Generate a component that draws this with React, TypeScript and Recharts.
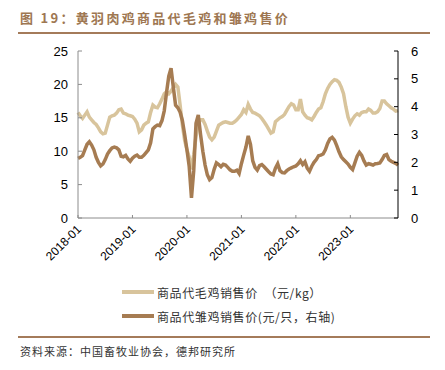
import React from 'react';
import { LineChart, Line, XAxis, YAxis } from 'recharts';

// x position: months since 2018-01, every half month
const months: number[] = Array.from({ length: 142 }, (_, i) => i * 0.5);

const yearTicks: number[] = [0, 12, 24, 36, 48, 60];
const yearLabels: string[] = ['2018-01', '2019-01', '2020-01', '2021-01', '2022-01', '2023-01'];

const leftTicks: number[] = [0, 5, 10, 15, 20, 25];
const rightTicks: number[] = [0, 1, 2, 3, 4, 5, 6];

// 商品代毛鸡销售价 (元/kg), left axis
const broilerPrice: number[] = [
  15.8, 15.3, 14.9, 15.4, 15.9, 15.1, 14.7, 14.3, 14.0, 13.5, 12.9, 12.6,
  12.7, 13.9, 15.1, 15.3, 15.4, 15.7, 16.2, 16.3, 15.7, 15.6, 15.4, 15.3,
  15.2, 14.8, 14.2, 12.9, 13.2, 13.9, 14.2, 14.4, 15.8, 16.9, 16.6, 16.5,
  17.1, 17.8, 18.6, 18.9, 18.6, 19.0, 19.5, 20.0, 19.6, 16.9, 13.9, 11.6,
  10.2, 9.1, 7.3, 9.5, 12.2, 14.1, 14.7, 14.7, 14.0, 13.0, 12.1, 11.7,
  12.1, 13.0, 13.9, 14.1, 14.3, 14.4, 14.3, 14.2, 14.2, 14.4, 14.7, 15.1,
  15.5, 16.2, 15.8, 17.0, 16.3, 15.8, 15.7, 15.5, 15.3, 14.9, 14.4, 13.9,
  13.3, 12.7, 12.9, 14.4, 14.7, 15.0, 15.2, 15.5, 16.1, 16.7, 17.1, 16.9,
  16.2, 16.2, 17.8, 15.9, 15.4, 15.0, 14.9, 14.7, 15.2, 15.8, 16.3, 16.5,
  17.4, 18.6, 19.4, 20.0, 20.4, 20.7, 20.6, 20.3, 19.6, 18.6, 16.7, 15.1,
  14.2, 14.8, 15.3, 15.6, 15.4, 15.8, 15.9, 15.9, 16.3, 16.1, 15.7, 15.7,
  15.9, 16.4, 17.5, 17.5, 17.1, 16.8, 16.5, 16.3, 16.0, 16.1,
];

// 商品代雏鸡销售价 (元/只), right axis
const chickPrice: number[] = [
  2.14, 2.18, 2.24, 2.45, 2.65, 2.74, 2.62, 2.45, 2.18, 2.0, 1.87, 1.94,
  2.1, 2.3, 2.42, 2.52, 2.55, 2.52, 2.45, 2.22, 2.2, 2.25, 2.12, 2.04,
  2.15, 2.22, 2.26, 2.18, 2.18, 2.25, 2.35, 2.45, 2.7, 3.2, 3.28, 3.34,
  3.32, 3.5, 3.85, 4.5, 5.1, 5.38, 4.7, 4.05, 3.96, 3.8, 3.5, 3.0,
  2.45, 1.85, 0.72, 1.7, 3.4, 3.7, 3.0, 2.4, 1.9, 1.55, 1.38, 1.45,
  1.75, 1.98, 1.92, 1.84, 1.93, 1.9, 1.82, 1.73, 1.68, 1.68, 1.72, 1.6,
  1.95, 2.26, 2.55, 2.95, 2.65, 2.05, 1.82, 1.72, 1.88, 1.92, 1.84, 1.75,
  1.66, 1.58, 1.55, 1.79, 1.95, 1.7, 1.63, 1.62, 1.7, 1.76, 1.8, 1.84,
  1.87, 1.95, 2.06, 1.92, 2.02, 1.79, 1.68, 1.86, 2.0, 2.1, 2.24, 2.26,
  2.3, 2.45, 2.68, 2.84, 2.9, 2.8, 2.6, 2.38, 2.2, 2.1, 2.02, 1.94,
  1.82, 1.74, 1.98, 2.22, 2.36, 2.25, 2.05, 1.9, 1.95, 1.93, 1.9, 1.95,
  1.96, 1.98, 2.1, 2.25, 2.28, 2.1, 2.04, 2.0, 1.96, 1.9,
];

const seriesNames: string[] = ['商品代毛鸡销售价  （元/kg）', '商品代雏鸡销售价(元/只，右轴)'];
const titleText = '图 19：黄羽肉鸡商品代毛鸡和雏鸡售价';
const sourceText = '资料来源：中国畜牧业协会，德邦研究所';

const LIGHT = '#D8C49C';
const DARK = '#A67C52';
const BROWN = '#A47B5A';
const TICK_FONT = '"Liberation Sans", Arial, sans-serif';
const CJK_FONT = '"Noto Sans CJK SC", "Noto Sans", sans-serif';

const data = months.map((m, i) => ({ m, broiler: broilerPrice[i], chick: chickPrice[i] }));

const XTick = (props: any) => {
  const { x, y, payload } = props;
  const idx = yearTicks.indexOf(payload.value);
  const label = idx >= 0 ? yearLabels[idx] : '';
  const lx = x + 4;
  const ly = y + 12;
  return (
    <text
      x={lx}
      y={ly}
      textAnchor="end"
      transform={`rotate(-45 ${lx} ${ly})`}
      fontSize={12}
      fontFamily={TICK_FONT}
      fill="#000"
    >
      {label}
    </text>
  );
};

export default function App() {
  return (
    <div style={{ position: 'absolute', left: 0, top: 0, width: 445, height: 370, background: '#fff', overflow: 'hidden' }}>
      <div
        style={{
          position: 'absolute', left: 20, top: 9, fontSize: 13, fontWeight: 'bold', letterSpacing: 2.3,
          color: '#9E7752', fontFamily: CJK_FONT, whiteSpace: 'nowrap', lineHeight: '18px',
        }}
      >
        {titleText}
      </div>
      <div style={{ position: 'absolute', left: 18, top: 32, width: 412, height: 2, background: BROWN }} />

      <div style={{ position: 'absolute', left: 0, top: 0 }}>
        <LineChart width={445} height={370} data={data} margin={{ top: 51, right: 17, bottom: 100, left: 18 }}>
          <XAxis
            dataKey="m"
            type="number"
            domain={[0, 70.5]}
            ticks={yearTicks}
            interval={0}
            height={52}
            tickSize={-3}
            tickMargin={3}
            stroke="#8C8C8C"
            tick={<XTick />}
          />
          <YAxis
            yAxisId="left"
            domain={[0, 25]}
            ticks={leftTicks}
            interval={0}
            width={60}
            tickSize={-4}
            tickMargin={14}
            stroke="#8C8C8C"
            tick={{ fill: '#000', fontSize: 13, fontFamily: TICK_FONT }}
          />
          <YAxis
            yAxisId="right"
            orientation="right"
            domain={[0, 6]}
            ticks={rightTicks}
            interval={0}
            width={30}
            tickSize={-4}
            tickMargin={17}
            stroke="#000"
            tick={{ fill: '#000', fontSize: 13, fontFamily: TICK_FONT }}
          />
          <Line yAxisId="left" type="linear" dataKey="broiler" stroke={LIGHT} strokeWidth={3.5} dot={false} isAnimationActive={false} />
          <Line yAxisId="right" type="linear" dataKey="chick" stroke={DARK} strokeWidth={3.5} dot={false} isAnimationActive={false} />
        </LineChart>
      </div>

      {seriesNames.map((name, i) => (
        <div key={name} style={{ position: 'absolute', left: 122, top: 284 + i * 24, height: 16, display: 'flex', alignItems: 'center' }}>
          <div style={{ width: 32, height: 4, background: i === 0 ? LIGHT : DARK, marginRight: 3 }} />
          <span style={{ fontSize: 12, letterSpacing: 0.6, color: '#333', fontFamily: CJK_FONT, whiteSpace: 'pre' }}>{name}</span>
        </div>
      ))}

      <div style={{ position: 'absolute', left: 18, top: 336, width: 412, height: 2, background: BROWN }} />
      <div
        style={{
          position: 'absolute', left: 20, top: 343, fontSize: 11, letterSpacing: 1, color: '#333',
          fontFamily: CJK_FONT, whiteSpace: 'nowrap', lineHeight: '16px',
        }}
      >
        {sourceText}
      </div>
    </div>
  );
}
